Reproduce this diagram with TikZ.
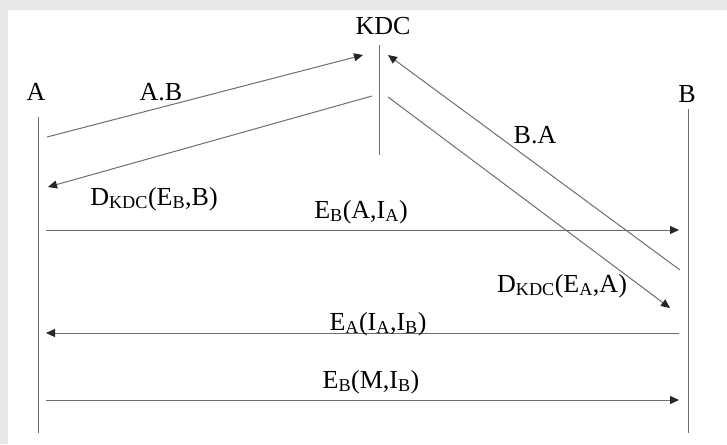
\documentclass[tikz,border=0pt]{standalone}
\usepackage{fontspec}
\setmainfont{Liberation Serif}
\usepackage{tikz}
\usetikzlibrary{arrows.meta, positioning}
\definecolor{frame}{RGB}{232,232,232}
\definecolor{wire}{RGB}{110,110,110}
\tikzset{
  lbl/.style  ={inner sep=0pt, anchor=base, font=\fontsize{26}{30}\selectfont},
  life/.style ={draw=wire, line width=1pt},
  msg/.style  ={-{Triangle[length=9pt,width=8pt,color=black!85]}, draw=wire, line width=1pt},
}

\begin{document}
\begin{tikzpicture}[x=1pt,y=-1pt]
\fill[frame] (0,0) rectangle (727,444);
\fill[white] (8,10) rectangle (727,444);
\useasboundingbox (0,0) rectangle (727,444);
% lifelines
\node[lbl] (a)   at (36,100)  {A};
\node[lbl] (b)   at (687,102) {B};
\node[lbl] (kdc) at (383,35)  {KDC};
\coordinate (a1) at (38,117);  \coordinate (a2) at (38,433);
\coordinate (b1) at (688,109); \coordinate (b2) at (688,433);
\coordinate (k1) at (379,45);  \coordinate (k2) at (379,155);
\draw[life] (a1)--(a2); \draw[life] (b1)--(b2); \draw[life] (k1)--(k2);
% key requests and replies
\coordinate (ab1) at (47,137);  \coordinate (ab2) at (363,55);
\coordinate (ka1) at (372,96);  \coordinate (ka2) at (48,187);
\coordinate (ba1) at (680,270); \coordinate (ba2) at (388,55);
\coordinate (kb1) at (388,97);  \coordinate (kb2) at (670,308);
\draw[msg] (ab1)--(ab2); \draw[msg] (ka1)--(ka2);
\draw[msg] (ba1)--(ba2); \draw[msg] (kb1)--(kb2);
\node[lbl] (lab) at (161,100) {A.B};
\node[lbl] (lka) at (154,205) {D\textsubscript{KDC}(E\textsubscript{B},B)};
\node[lbl] (lba) at (535,143) {B.A};
\node[lbl] (lkb) at (562,292) {D\textsubscript{KDC}(E\textsubscript{A},A)};
% exchange between A and B
\coordinate (m1a) at (46,230);  \coordinate (m1b) at (679,230);
\coordinate (m2a) at (46,333);  \coordinate (m2b) at (679,333);
\coordinate (m3a) at (46,400);  \coordinate (m3b) at (679,400);
\draw[msg] (m1a)--(m1b); \draw[msg] (m2b)--(m2a); \draw[msg] (m3a)--(m3b);
\node[lbl] (lm1) at (361,218) {E\textsubscript{B}(A,I\textsubscript{A})};
\node[lbl] (lm2) at (378,330) {E\textsubscript{A}(I\textsubscript{A},I\textsubscript{B})};
\node[lbl] (lm3) at (371,388) {E\textsubscript{B}(M,I\textsubscript{B})};
\end{tikzpicture}
\end{document}
